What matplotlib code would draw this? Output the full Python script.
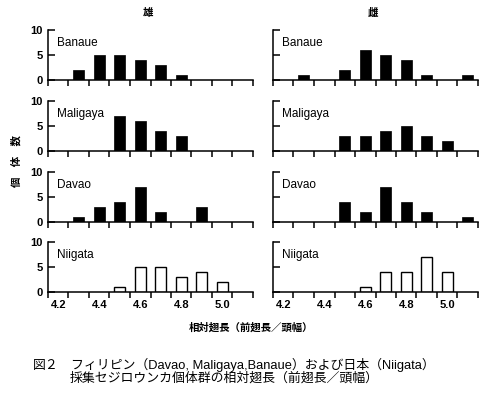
import numpy as np
import matplotlib
matplotlib.use("Agg")
import matplotlib.pyplot as plt

# bin centres (relative wing length) and counts
sites = ["Banaue", "Maligaya", "Davao", "Niigata"]

male_x = {
    "Banaue": [4.3, 4.4, 4.5, 4.6, 4.7, 4.8],
    "Maligaya": [4.5, 4.6, 4.7, 4.8],
    "Davao": [4.3, 4.4, 4.5, 4.6, 4.7, 4.9],
    "Niigata": [4.5, 4.6, 4.7, 4.8, 4.9, 5.0],
}
male_n = {
    "Banaue": [2, 5, 5, 4, 3, 1],
    "Maligaya": [7, 6, 4, 3],
    "Davao": [1, 3, 4, 7, 2, 3],
    "Niigata": [1, 5, 5, 3, 4, 2],
}
female_x = {
    "Banaue": [4.3, 4.5, 4.6, 4.7, 4.8, 4.9, 5.1],
    "Maligaya": [4.5, 4.6, 4.7, 4.8, 4.9, 5.0],
    "Davao": [4.5, 4.6, 4.7, 4.8, 4.9, 5.1],
    "Niigata": [4.6, 4.7, 4.8, 4.9, 5.0],
}
female_n = {
    "Banaue": [1, 2, 6, 5, 4, 1, 1],
    "Maligaya": [3, 3, 4, 5, 3, 2],
    "Davao": [4, 2, 7, 4, 2, 1],
    "Niigata": [1, 4, 4, 7, 4],
}

bin_edges = np.round(np.arange(4.15, 5.151, 0.1), 2)
xtick_labels = [4.2, 4.4, 4.6, 4.8, 5.0]
yticks = [0, 5, 10]

col_titles = ["雄", "雌"]
xlabel = "相対翅長（前翅長／頭幅）"
ylabel = "個　体　数"
cap_fig = "図２"
cap_line1 = "フィリピン（Davao, Maligaya,Banaue）および日本（Niigata）"
cap_line2 = "採集セジロウンカ個体群の相対翅長（前翅長／頭幅）"

W, H = 492, 400
fig = plt.figure(figsize=(W / 100, H / 100), dpi=100)

cjk = ["Noto Sans CJK JP", "DejaVu Sans"]
mixed = ["Liberation Sans", "Noto Sans CJK JP"]
latin = "Liberation Sans"

col_left = [48, 273]
axw = 205
row_bottom = [80, 151, 222, 292]
axh = 50

for c, (xs, ns) in enumerate([(male_x, male_n), (female_x, female_n)]):
    for r, site in enumerate(sites):
        ax = fig.add_axes([col_left[c] / W, 1 - row_bottom[r] / H, axw / W, axh / H])
        if site == "Niigata":
            ax.bar(xs[site], ns[site], width=0.055, color="white",
                   edgecolor="black", linewidth=1.0)
        else:
            ax.bar(xs[site], ns[site], width=0.055, color="black",
                   edgecolor="black", linewidth=0.5)
        ax.set_xlim(4.15, 5.15)
        ax.set_ylim(0, 10)
        for s in ["top", "right"]:
            ax.spines[s].set_visible(False)
        for s in ["left", "bottom"]:
            ax.spines[s].set_linewidth(1.1)
        ax.set_xticks(bin_edges)
        ax.set_xticklabels([])
        ax.tick_params(axis="x", which="major", direction="out", length=4, width=1.1)
        ax.set_yticks(yticks)
        ax.tick_params(axis="y", direction="in", length=5, width=1.1, pad=4)
        if c == 0:
            ax.set_yticklabels([str(v) for v in yticks], fontfamily=latin,
                               fontweight="bold", fontsize=8)
        else:
            ax.set_yticklabels([])
        if r == 3:
            ax.set_xticks(xtick_labels, minor=True)
            ax.set_xticklabels([f"{v:.1f}" for v in xtick_labels], minor=True,
                               fontfamily=latin, fontweight="bold", fontsize=8)
            ax.tick_params(axis="x", which="minor", length=0, pad=6)
        ax.text(0.045, 0.74, site, transform=ax.transAxes, fontfamily=latin,
                fontsize=8.5, va="center", ha="left")

# column titles
fig.text(148 / W, 1 - 13 / H, col_titles[0], family=cjk, fontsize=7.5,
         fontweight="bold", ha="center", va="center")
fig.text(373 / W, 1 - 13 / H, col_titles[1], family=cjk, fontsize=7.5,
         fontweight="bold", ha="center", va="center")

# axis labels
fig.text(16 / W, 1 - 161 / H, ylabel, family=cjk, fontsize=7.5, fontweight="bold",
         rotation=90, ha="center", va="center")
fig.text(251 / W, 1 - 327 / H, xlabel, family=cjk, fontsize=7.5,
         fontweight="bold", ha="center", va="center")

# caption
fig.text(33 / W, 1 - 365 / H, cap_fig, family=cjk, fontsize=9.3,
         ha="left", va="center")
fig.text(71 / W, 1 - 365 / H, cap_line1, family=mixed, fontsize=9.3,
         ha="left", va="center")
fig.text(70 / W, 1 - 378 / H, cap_line2, family=cjk, fontsize=9.3,
         ha="left", va="center")

fig.savefig("out.png", dpi=100)
